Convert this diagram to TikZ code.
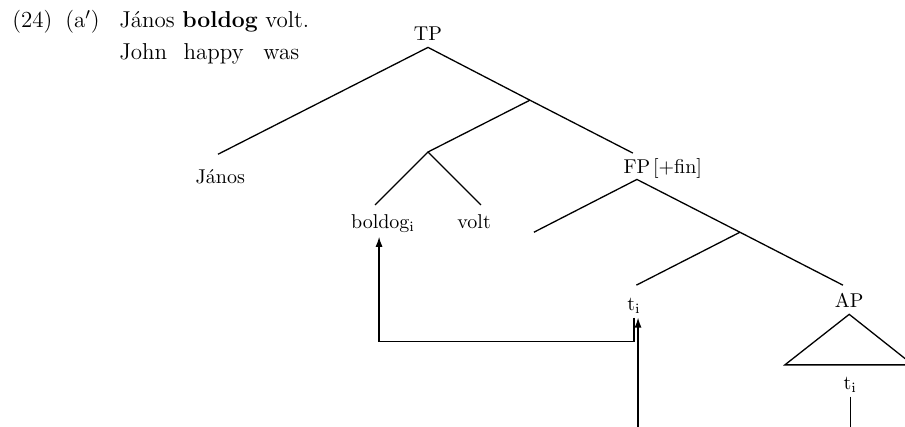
\documentclass[tikz,border=0pt]{standalone}
\usepackage{tikz}
\usetikzlibrary{calc}
\usetikzlibrary{arrows.meta}

\tikzset{
  cat/.style={anchor=base, inner sep=3pt},
  word/.style={anchor=base, inner sep=2pt},
  gloss/.style={anchor=base west, inner sep=0pt, font=\fontsize{11.5}{14}\selectfont},
  branch/.style={line width=0.65pt},
  movearrow/.style={line width=0.65pt, -{Latex[length=5pt,width=3.5pt]}}
}

\begin{document}
\begin{tikzpicture}
        \useasboundingbox (0,0) rectangle (15.90,-7.50);
        % example sentence with gloss
        \node[gloss] at (0.21,-0.49) (exnum) {(24)};
        \node[gloss] at (1.14,-0.49) (exlabel) {(a$'$)};
        \node[gloss] at (2.09,-0.49) (sentence) {János \textbf{boldog} volt.};
        \node[gloss] at (2.09,-1.04) (glsjohn) {John};
        \node[gloss] at (3.22,-1.04) (glshappy) {happy};
        \node[gloss] at (4.62,-1.04) (glswas) {was};
        % labels of the tree
        \node[cat] at (7.52,-0.72) (tp) {TP};
        \node[word] at (3.87,-3.23) (janos) {János};
        \node[word] at (6.73,-4.01) (boldog) {boldog$_\mathrm{i}$};
        \node[word] at (8.33,-4.01) (volt) {volt};
        \node[cat] at (11.19,-3.04) (fp) {FP};
        \node[anchor=base west, inner sep=0pt] at ($(fp.base east)+(-0.07,0)$) (fin) {[+fin]};
        \node[word] at (11.14,-5.45) (ti) {t$_\mathrm{i}$};
        \node[cat] at (14.92,-5.41) (ap) {AP};
        \node[word] at (14.94,-6.84) (tiap) {t$_\mathrm{i}$};
        % branch ends
        \coordinate (tpl) at (3.83,-2.71);
        \coordinate (tpr) at (9.31,-1.76);
        \coordinate (fptop) at (11.12,-2.69);
        \coordinate (vp) at (7.52,-2.67);
        \coordinate (boldogtop) at (6.59,-3.60);
        \coordinate (volttop) at (8.45,-3.60);
        \coordinate (fpl) at (9.38,-4.08);
        \coordinate (fpr) at (13.00,-4.08);
        \coordinate (aptop) at (14.81,-5.01);
        \coordinate (titop) at (11.18,-5.01);
        \coordinate (tril) at (13.79,-6.41);
        \coordinate (trir) at (16.04,-6.41);
        \coordinate (tibelow) at (14.94,-7.60);
        \coordinate (movein) at (11.21,-7.60);
        \draw[branch] (tpl) -- (tp.south) -- (tpr) -- (fptop);
        \draw[branch] (tpr) -- (vp);
        \draw[branch] (boldogtop) -- (vp) -- (volttop);
        \draw[branch] (fpl) -- (fp.south) -- (fpr) -- (aptop);
        \draw[branch] (fpr) -- (titop);
        \draw[branch] (ap.south) -- (tril) -- (trir) -- cycle;
        \draw[branch] (tiap.south) -- (tibelow);
        % movement
        \draw[movearrow] (ti.south) -- ++(0,-0.42) -| ([xshift=-0.07cm]boldog.south);
        \draw[movearrow] (movein) -- (movein |- ti.south);
    \end{tikzpicture}
\end{document}
